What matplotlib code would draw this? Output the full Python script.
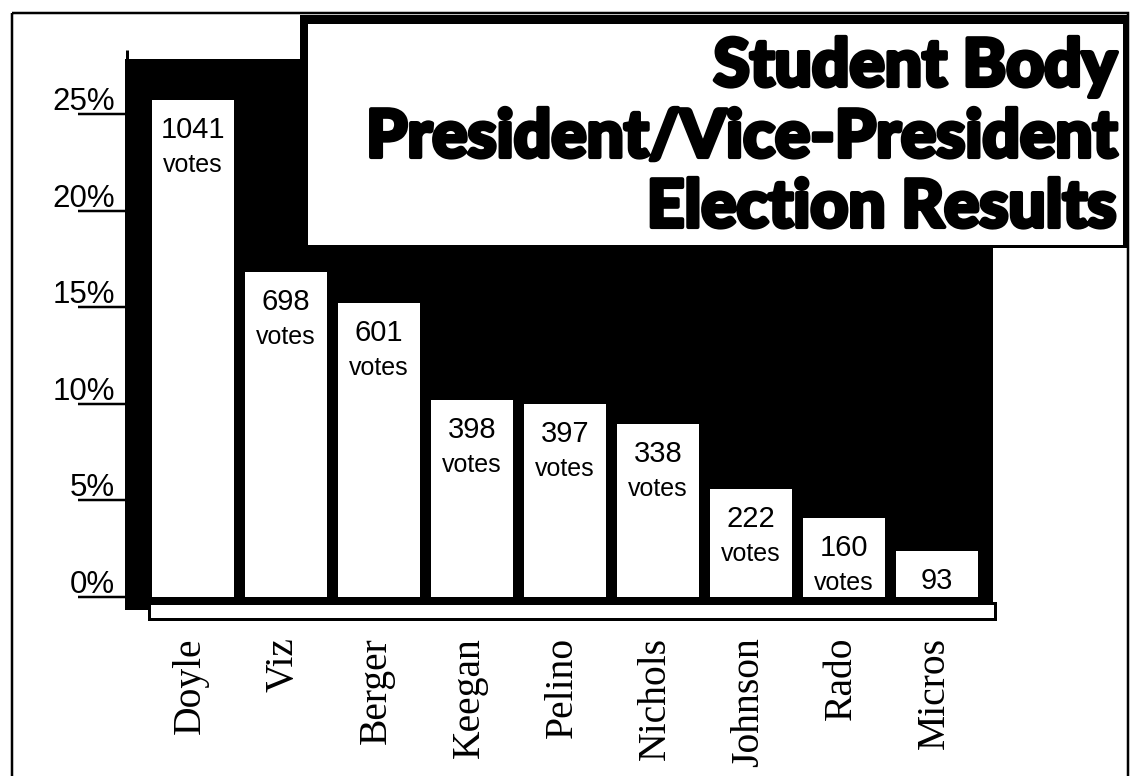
import matplotlib
matplotlib.use("Agg")
import matplotlib.pyplot as plt
import matplotlib.transforms as mtransforms
import matplotlib.patheffects as pe
from matplotlib.patches import Rectangle

# ---------------- data ----------------
candidates = ["Doyle", "Viz", "Berger", "Keegan", "Pelino", "Nichols", "Johnson", "Rado", "Micros"]
votes = [1041, 698, 601, 398, 397, 338, 222, 160, 93]
percent = [25.7, 16.8, 15.2, 10.2, 10.0, 8.95, 5.6, 4.1, 2.4]
vote_unit = ["votes", "votes", "votes", "votes", "votes", "votes", "votes", "votes", ""]
yticks = [0, 5, 10, 15, 20, 25]
ytick_labels = ["0%", "5%", "10%", "15%", "20%", "25%"]
title_lines = ["Student Body", "President/Vice-President", "Election Results"]

# ---------------- figure ----------------
W, H = 1138, 776
DPI = 100
fig = plt.figure(figsize=(W / DPI, H / DPI), dpi=DPI)
fig.patch.set_facecolor("white")

# pixel transform (origin top-left, y down)
pix = mtransforms.Affine2D().scale(1, -1).translate(0, H)

PX = 0.72  # points per pixel

ax = fig.add_axes([125 / W, (H - 620) / H, (996 - 125) / W, (620 - 50) / H])
ax.set_xlim(-0.731, 8.634)
ax.set_ylim(-1.19, 28.31)
ax.set_axis_off()

def prect(x0, y0, x1, y1, **kw):
    r = Rectangle((x0, y0), x1 - x0, y1 - y0, transform=pix, clip_on=False, **kw)
    ax.add_patch(r)
    return r

# black background of the plot area
prect(125, 59, 993, 604, facecolor="black", edgecolor="none", zorder=1)
prect(125, 59, 150, 610, facecolor="black", edgecolor="none", zorder=1)
# axis line above the black block
ax.plot([126.5, 126.5], [50, 62], color="black", lw=3 * PX, transform=pix,
        clip_on=False, zorder=1, solid_capstyle="butt")
# baseline box
prect(149, 603, 995, 618.5, facecolor="white", edgecolor="black", lw=3 * PX, zorder=2)

# bars
x = list(range(len(candidates)))
ax.bar(x, percent, width=0.88, color="white", edgecolor="none", zorder=3)

num_font = dict(family=["Liberation Sans", "DejaVu Sans"], color="black")
for i in x:
    ax.annotate(str(votes[i]), xy=(i, percent[i]), xytext=(0, -16),
                textcoords="offset pixels", ha="center", va="top",
                fontsize=21, zorder=4, **num_font)
    if vote_unit[i]:
        ax.annotate(vote_unit[i], xy=(i, percent[i]), xytext=(0, -72),
                    textcoords="offset pixels", ha="center", va="baseline",
                    fontsize=18, zorder=4, **num_font)

# y ticks: underline-style tick lines and labels
tick_tr = mtransforms.blended_transform_factory(pix, ax.transData)
label_tr = tick_tr + mtransforms.Affine2D().translate(0, 4)
for v, lab in zip(yticks, ytick_labels):
    ax.plot([78, 125], [v, v], color="black", lw=2.5 * PX, transform=tick_tr,
            clip_on=False, zorder=2, solid_capstyle="butt")
    ax.text(115, v, lab, transform=label_tr, ha="right", va="baseline",
            fontsize=22.5, zorder=4, **num_font)

# candidate names
name_tr = mtransforms.blended_transform_factory(ax.transData, pix)
for i, name in zip(x, candidates):
    ax.text(i - 0.03, 637, name, transform=name_tr, rotation=90, ha="center", va="top",
            fontsize=28.5, family=["Liberation Serif", "DejaVu Serif"], color="black")

# title box
prect(300, 15, 1127, 248, facecolor="black", edgecolor="none", zorder=5)
prect(308, 24, 1122.5, 244.5, facecolor="white", edgecolor="none", zorder=6)

title_font = dict(family=["Lato", "Liberation Sans", "DejaVu Sans"], weight="black", color="black")
stroke = [pe.withStroke(linewidth=3.0, foreground="black")]
baselines = [86, 157, 227]
renderer = fig.canvas.get_renderer()
probe = ax.text(0, 0, title_lines[1], transform=pix, fontsize=46, **title_font)
wpx = probe.get_window_extent(renderer).width
probe.remove()
tsize = 46 * 752.0 / wpx
for line, yb in zip(title_lines, baselines):
    ax.text(1116.5, yb, line, transform=pix, ha="right", va="baseline",
            fontsize=tsize, zorder=7, path_effects=stroke, **title_font)

# outer frame
prect(12, 13, 1128, 820, facecolor="none", edgecolor="black", lw=2.5 * PX, zorder=8)

fig.savefig("out.png", dpi=DPI)
